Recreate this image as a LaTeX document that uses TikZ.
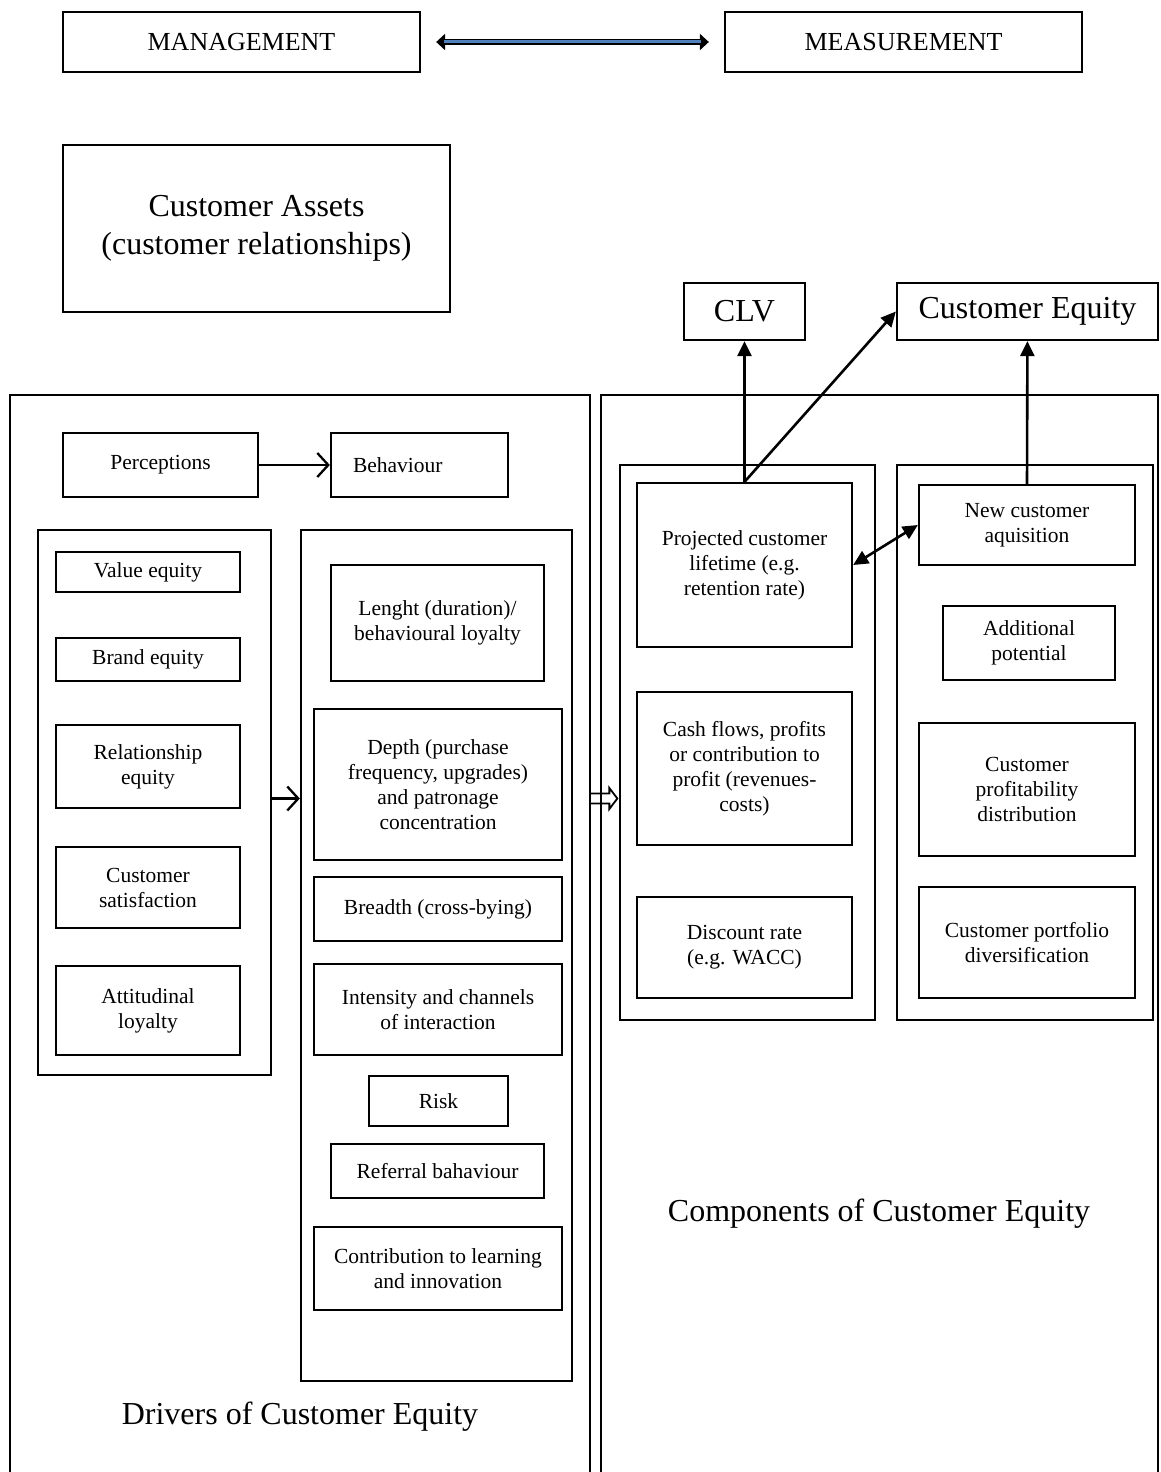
\documentclass[tikz,border=0pt]{standalone}
\usepackage{fontspec}
\setmainfont{Liberation Serif}
\usetikzlibrary{arrows.meta,positioning,calc}
\definecolor{LinkBlue}{HTML}{4F81BD}
\newcommand\boxtext{\fontsize{21.5}{25}\selectfont}
\newcommand\captext{\fontsize{26}{30}\selectfont}
\newcommand\bigtext{\fontsize{32}{38}\selectfont}
\tikzset{
  box/.style={draw,line width=2.3pt,align=center,inner sep=0pt,font=\boxtext},
  panel/.style={draw,line width=2.3pt,inner sep=0pt},
  link/.style={line width=2.6pt,-{Triangle[length=15pt,width=14pt]}},
  barb/.style={line width=2.3pt,-{Straight Barb[length=11pt,width=24pt]}},
}

\begin{document}
\begin{tikzpicture}[x=1pt,y=-1pt]
  \useasboundingbox (0,0) rectangle (1160,1472);
  \clip (0,0) rectangle (1160,1472);
  \node[box,font=\captext,minimum width=357,minimum height=60] (mgmt) at (241.5,42) {MANAGEMENT};
  \node[box,font=\captext,minimum width=357,minimum height=60] (meas) at (903.5,42) {MEASUREMENT};
  \node[box,font=\bigtext,minimum width=387,minimum height=167] (assets) at (256.5,228.5) {Customer Assets\\(customer relationships)};
  \node[box,font=\bigtext,minimum width=121,minimum height=57] (clv) at (744.5,311.5) {CLV};
  \node[box,font=\bigtext,minimum width=261,minimum height=57] (ce) at (1027.5,311.5) {Customer Equity};
  % drivers
  \node[panel,minimum width=580,minimum height=1105] (drivers) at (300,947.5) {};
  \node[box,minimum width=195,minimum height=64] (perc) at (160.5,465) {Perceptions};
  \node[box,minimum width=177,minimum height=64,text width=133,align=left] (behav) at (419.5,465) {Behaviour};
  \node[panel,minimum width=233,minimum height=545] (perccol) at (154.5,802.5) {};
  \node[box,minimum width=184,minimum height=40] (valeq) at (148,572) {Value equity};
  \node[box,minimum width=184,minimum height=43] (brandeq) at (148,659.5) {Brand equity};
  \node[box,minimum width=184,minimum height=83] (releq) at (148,766.5) {Relationship\\equity};
  \node[box,minimum width=184,minimum height=81] (custsat) at (148,887.5) {Customer\\satisfaction};
  \node[box,minimum width=184,minimum height=89] (attloy) at (148,1010.5) {Attitudinal\\loyalty};
  \node[panel,minimum width=271,minimum height=851] (behcol) at (436.5,955.5) {};
  \node[box,minimum width=213,minimum height=116] (length) at (437.5,623) {Lenght (duration)/\\behavioural loyalty};
  \node[box,minimum width=248,minimum height=151] (depth) at (438,784.5) {Depth (purchase\\frequency, upgrades)\\and patronage\\concentration};
  \node[box,minimum width=248,minimum height=64] (breadth) at (438,909) {Breadth (cross-bying)};
  \node[box,minimum width=248,minimum height=91] (intens) at (438,1009.5) {Intensity and channels\\of interaction};
  \node[box,minimum width=139,minimum height=50] (risk) at (438.5,1101) {Risk};
  \node[box,minimum width=213,minimum height=54] (referral) at (437.5,1171) {Referral bahaviour};
  \node[box,minimum width=248,minimum height=83] (contrib) at (438,1268.5) {Contribution to learning\\and innovation};
  \node[font=\bigtext] (drvlabel) at (300,1417) {Drivers of Customer Equity};
  % components
  \node[panel,minimum width=557,minimum height=1105] (comps) at (879.5,947.5) {};
  \node[panel,minimum width=255,minimum height=555] (clvcol) at (747.5,742.5) {};
  \node[box,minimum width=215,minimum height=164] (proj) at (744.5,565) {Projected customer\\lifetime (e.g.\\retention rate)};
  \node[box,minimum width=215,minimum height=153] (cash) at (744.5,768.5) {Cash flows, profits\\or contribution to\\profit (revenues-\\costs)};
  \node[box,minimum width=215,minimum height=101] (disc) at (744.5,947.5) {Discount rate\\(e.g. WACC)};
  \node[panel,minimum width=256,minimum height=555] (cecol) at (1025,742.5) {};
  \node[box,minimum width=216,minimum height=80] (newcust) at (1027,525) {New customer\\aquisition};
  \node[box,minimum width=172,minimum height=74] (addpot) at (1029,643) {Additional\\potential};
  \node[box,minimum width=216,minimum height=133] (custprof) at (1027,789.5) {Customer\\profitability\\distribution};
  \node[box,minimum width=216,minimum height=111] (portf) at (1027,942.5) {Customer portfolio\\diversification};
  \node[font=\bigtext] (cmplabel) at (879,1214) {Components of Customer Equity};
  % arrows
  \draw[line width=6.5pt,{Triangle[length=9pt,width=16pt]}-{Triangle[length=9pt,width=16pt]},shorten <=15pt,shorten >=15pt] (mgmt) -- (meas);
  \draw[line width=3pt,LinkBlue,shorten <=23pt,shorten >=23pt] (mgmt) -- (meas);
  \draw[barb] (perc) -- (behav);
  \coordinate (pb) at ($(perccol.east)+(0,-4)$);
  \draw[barb] (pb) -- (pb -| behcol.west);
  \coordinate (hs) at (drivers.east |- pb);
  \coordinate (he) at ($(hs -| clvcol.west)+(-1.5,0)$);
  \draw[line width=1.8pt] ($(hs)+(0,-5)$) -- ($(he)+(-8,-5)$) -- ($(he)+(-8,-10.5)$) -- (he)
    -- ($(he)+(-8,10.5)$) -- ($(he)+(-8,5)$) -- ($(hs)+(0,5)$);
  \draw[link] (proj.north) -- (clv);
  \draw[link] (proj.north) -- (ce.west);
  \draw[link] (newcust.north) -- (ce);
  \draw[line width=2.6pt,{Triangle[length=15pt,width=14pt]}-{Triangle[length=15pt,width=14pt]}] (proj.east) -- (newcust.west);
\end{tikzpicture}
\end{document}
